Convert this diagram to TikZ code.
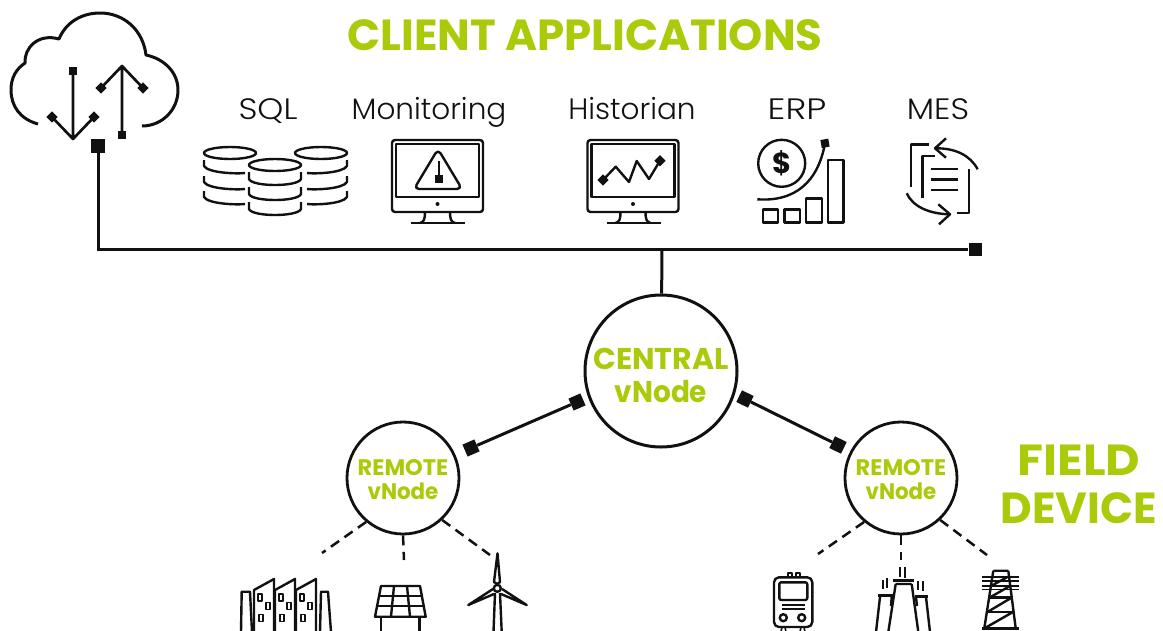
\documentclass[tikz,border=0pt]{standalone}
\usepackage{fontspec}
\setmainfont{Poppins}
\newfontfamily\lightfont{Poppins Light}
\usetikzlibrary{positioning}
\definecolor{vgreen}{HTML}{AACB0A}
\definecolor{vblack}{HTML}{111110}
\tikzset{>=stealth}
\tikzset{
	% text styles
	titletext/.style={text=vgreen,font=\fontsize{43.5}{48}\selectfont\bfseries,align=center,inner sep=0pt},
	apptext/.style={text=vblack,font=\lightfont\fontsize{29.5}{30}\selectfont,inner sep=0pt,anchor=base},
	centrallabel/.style={text=vgreen,align=center,inner sep=0pt,yshift=-4pt,font=\fontsize{30}{33}\selectfont\bfseries},
	remotelabel/.style={text=vgreen,align=center,inner sep=0pt,yshift=-2pt,font=\fontsize{22.5}{24}\selectfont\bfseries},
	% nodes of the tree
	centralnode/.style={circle,draw=vblack,line width=3pt,fill=white,minimum size=152pt,inner sep=0pt},
	remotenode/.style={circle,draw=vblack,line width=2.8pt,fill=white,minimum size=112pt,inner sep=0pt},
	% connector ends
	endsq/.style={rectangle,fill=vblack,inner sep=0pt,minimum size=13pt},
	% line styles
	busline/.style={draw=vblack,line width=3pt},
	fieldline/.style={draw=vblack,line width=2.5pt,dash pattern=on 10pt off 6.5pt},
	icon/.style={draw=vblack,line width=2.4pt,line join=round},
}
\newcommand{\tipmark}[3][45]{\fill[vblack,shift={(#2,#3)},rotate=#1] (-4,-4) rectangle (4,4);}
\begin{document}
\begin{tikzpicture}[x=1pt,y=-1pt]
\path[use as bounding box,clip] (0,0) rectangle (1163,630);
% titles
\node[titletext] (clienttitle) at (585,35) {CLIENT APPLICATIONS};
\node[titletext] (fieldtitle) at (1079,484) {\scalebox{1.09}[1]{FIELD}\\DEVICE};
% application labels
\node[apptext] (sqllabel) at (268,119) {\scalebox{1.12}[1]{SQL}};
\node[apptext] (monlabel) at (429,119) {Monitoring};
\node[apptext] (histlabel) at (632,119) {Historian};
\node[apptext] (erplabel) at (797,119) {\scalebox{1.2}[1]{ERP}};
\node[apptext] (meslabel) at (938,119) {\scalebox{1.1}[1]{MES}};
% the cloud
\draw[icon,line width=3pt] (38,124) .. controls (20,119) and (11,106) .. (11,90)
  .. controls (11,78) and (16,69) .. (25,63) .. controls (24,48) and (38,33) .. (59,39)
  .. controls (66,22) and (82,13) .. (100,13) .. controls (124,13) and (143,30) .. (146,55)
  .. controls (165,59) and (178,73) .. (178,90) .. controls (178,110) and (162,126) .. (142,126);
\draw[icon,line width=2.7pt] (73,71) -- (73,139) (52,117) -- (73,139) -- (94,117);
\draw[icon,line width=2.7pt] (122,133) -- (122,66) (101,88) -- (122,66) -- (143,88);
\tipmark[0]{73}{71}
\tipmark[0]{122}{135}
\tipmark{52}{117}
\tipmark{94}{117}
\tipmark{101}{88}
\tipmark{143}{88}
% database stacks
\foreach \x/\l/\r in {230/204/245,321/347/307}{
  \draw[icon] (\x,153) ellipse (26 and 6);
  \foreach \t in {7,23,38}
    \draw[icon] (\l,153+\t) -- (\l,153+\t+6) .. controls ({\l+0.1*(\r-\l)},153+\t+13) and ({\r-0.2*(\r-\l)},153+\t+14) .. (\r,153+\t+13);
}
\draw[icon] (275,165) ellipse (26 and 6);
\foreach \t in {7,22,37}
  \draw[icon] (249,165+\t) -- (249,165+\t+7) .. controls (252,165+\t+15) and (298,165+\t+15) .. (301,165+\t+7) -- (301,165+\t);
% the two monitors
\foreach \x in {0,195.5}{
  \begin{scope}[xshift=\x pt]
    \draw[icon,rounded corners=3pt] (392,140) rectangle (483,212);
    \draw[icon] (396,144) rectangle (479,197);
    \fill[vblack] (437.5,204) circle (2);
    \draw[icon] (425,212) .. controls (425,219) and (424,222) .. (420,223);
    \draw[icon] (450,212) .. controls (450,219) and (451,222) .. (455,223);
    \draw[icon] (411,223) -- (465,223);
  \end{scope}
}
% warning sign
\draw[icon,rounded corners=5pt] (438,149) -- (462,189) -- (414,189) -- cycle;
\draw[icon] (438.7,161) -- (438.7,176);
\tipmark[0]{438.7}{179}
% trend line
\draw[icon] (603,180) -- (615.7,166.7) -- (629,182) -- (636.7,161) -- (649,179) -- (660,160.7);
\tipmark{603}{180}
\tipmark{660}{160.7}
% ERP
\draw[icon] (781.7,163.3) circle (23.5);
\node[text=vblack,font=\fontsize{29}{29}\selectfont\bfseries,inner sep=0pt] (dollar) at (782,163) {\$};
\draw[icon] (762.7,209.3) rectangle (777.7,222.3);
\draw[icon] (784.3,209.3) rectangle (800,222.3);
\draw[icon] (806,198.3) rectangle (821.7,222.3);
\draw[icon] (827.7,160) rectangle (843.3,222.3);
\draw[icon] (757.3,199.3) .. controls (795,202) and (818,182) .. (825,143.3);
\tipmark[10]{825}{143.3}
% MES
\draw[icon] (929,144.3) -- (911,144.3) -- (911,186.7);
\draw[icon] (935,155.7) -- (922.3,155.7) -- (922.3,198.3);
\foreach \y in {169,179.3,190}
  \draw[icon] (930.7,\y) -- (957.7,\y);
\draw[icon] (969,169.3) -- (969,212.7) -- (956.7,212.7);
\draw[icon] (977.7,169.3) .. controls (970,155) and (955,148) .. (935,148.3);
\draw[icon] (946,138.3) -- (935,148.3) -- (946,157.7);
\draw[icon] (906.7,193.3) .. controls (913,207) and (930,214) .. (950,214.3);
\draw[icon] (938.3,204.3) -- (950,214.3) -- (939,224.3);
% the tree
\node[centralnode,label={[centrallabel,name=centraltext]center:{CENTRAL\\\scalebox{.93}[1]{vNode}}}] (central) at (661,371) {};
\node[remotenode,label={[remotelabel,name=remoteLtext]center:{REMOTE\\\scalebox{.95}[1]{vNode}}}] (remoteL) at (403,478) {};
\node[remotenode,label={[remotelabel,name=remoteRtext]center:{REMOTE\\\scalebox{.95}[1]{vNode}}}] (remoteR) at (901,478) {};
\node[endsq,rotate=23.5] (linkLa) at (471,448) {};
\node[endsq,rotate=23.5] (linkLb) at (577,402) {};
\node[endsq,rotate=-26] (linkRa) at (745,399) {};
\node[endsq,rotate=-26] (linkRb) at (838,445) {};
\draw[busline] (linkLa) -- (linkLb);
\draw[busline] (linkRa) -- (linkRb);
% the bus
\node[endsq,minimum size=14pt] (cloudend) at (98,146) {};
\node[endsq] (busend) at (975,249) {};
\coordinate (busjoin) at (662,249);
\draw[busline] (cloudend) |- (busend);
\draw[busline] (busjoin) -- (central);
% dashed field links
\coordinate (fieldLa) at (322,553);
\coordinate (fieldLb) at (404,560);
\coordinate (fieldLc) at (490,555);
\coordinate (fieldRa) at (818,554);
\coordinate (fieldRb) at (901,560);
\coordinate (fieldRc) at (987,555);
\draw[fieldline] (remoteL.230) -- (fieldLa);
\draw[fieldline] (remoteL.south) -- (fieldLb);
\draw[fieldline] (remoteL.-47) -- (fieldLc);
\draw[fieldline] (remoteR.230) -- (fieldRa);
\draw[fieldline] (remoteR.south) -- (fieldRb);
\draw[fieldline] (remoteR.-47) -- (fieldRc);
% buildings
\draw[icon] (241,632) -- (241.7,591.7) -- (250,591.7) -- (252,632);
\draw[icon] (320,632) -- (321,591.7) -- (328,591.7) -- (331,632);
\foreach \x in {0,21,42}{
  \draw[icon] (254+\x,632) -- (254+\x,590) -- (274+\x,579) -- (274+\x,632);
  \draw[icon,line width=1.6pt] (258+\x,594) rectangle +(4,7);
  \draw[icon,line width=1.6pt] (266+\x,602.5) rectangle +(4,7);
  \draw[icon,line width=1.6pt] (259+\x,614.5) rectangle +(4,7);
}
% solar panel
\draw[icon] (381,586) -- (420,586) -- (425.7,616.7) -- (375,616.7) -- cycle;
\draw[icon] (379,596) -- (422,596) (377,606) -- (424,606);
\draw[icon] (394,586) -- (391,616.7) (407,586) -- (410,616.7);
\draw[icon] (381,616.7) -- (381,632) (419.3,616.7) -- (419.3,632);
% wind turbine
\draw[icon] (495,593) -- (493.5,632) (500,593) -- (501.7,632);
\draw[icon] (494,582) -- (497.5,553.3) -- (500,582) -- (497.3,584) -- cycle;
\draw[icon] (493,589) -- (468.3,605) -- (494,594);
\draw[icon] (502,589) -- (526.7,605) -- (501,594);
\draw[icon,fill=white] (497.3,588.3) circle (3.5);
% train
\draw[icon,rounded corners=5pt] (774,577.3) rectangle (812.3,627);
\draw[icon,rounded corners=2pt] (779.3,582.3) rectangle (807.3,600);
\draw[icon,line width=1.6pt] (787.7,572.7) rectangle (791.7,577.3);
\draw[icon,line width=1.6pt] (795.7,572.7) rectangle (799.7,577.3);
\draw[icon] (782.3,605) -- (805,605) (782.3,609) -- (805,609);
\draw[icon] (783.3,617.7) circle (3.5);
\draw[icon] (801.7,617.7) circle (3.5);
\draw[icon,line width=1.6pt] (782,627) -- (781,632) (785,627) -- (786,632) (801,627) -- (800,632) (804,627) -- (805,632);
% power plant
\draw[icon] (895.7,584) -- (888.3,632) (911.7,584) -- (918.3,632) (895.7,584) -- (911.7,584);
\draw[icon,line width=3pt] (893.3,580.7) -- (914,580.7);
\draw[icon] (880,597) -- (876,632) (891.7,597) -- (891,606);
\draw[icon,line width=3pt] (878.3,595) -- (892.7,595);
\draw[icon] (926,597) -- (930,632) (916,597) -- (917,606);
\draw[icon,line width=3pt] (915,596) -- (927.7,596);
\foreach \x/\a/\b in {900/567/577,905.3/567/578,882.7/580/589,887.3/578/588,918.3/581/590,923.3/581/591}
  \draw[icon,line width=1.8pt] (\x,\a) -- (\x,\b);
% pylon
\draw[icon] (993.3,570.7) -- (1008.3,570.7) (993.3,570.7) -- (984.3,628.3) (1008.3,570.7) -- (1015.7,628.3);
\draw[icon] (982,628.5) -- (1019,628.5);
\foreach \y in {576.7,580.7,586,589.3}
  \draw[icon,line width=1.6pt] (982.3,\y) -- (1019,\y);
\draw[icon] (989,597.3) -- (1011,597.3) (987,611.7) -- (1013.5,611.7);
\draw[icon] (991,586) -- (1008,576.7) (990,597.3) -- (1010,586) (988,611.7) -- (1011,598) (985,628) -- (1013,612);
\end{tikzpicture}
\end{document}
